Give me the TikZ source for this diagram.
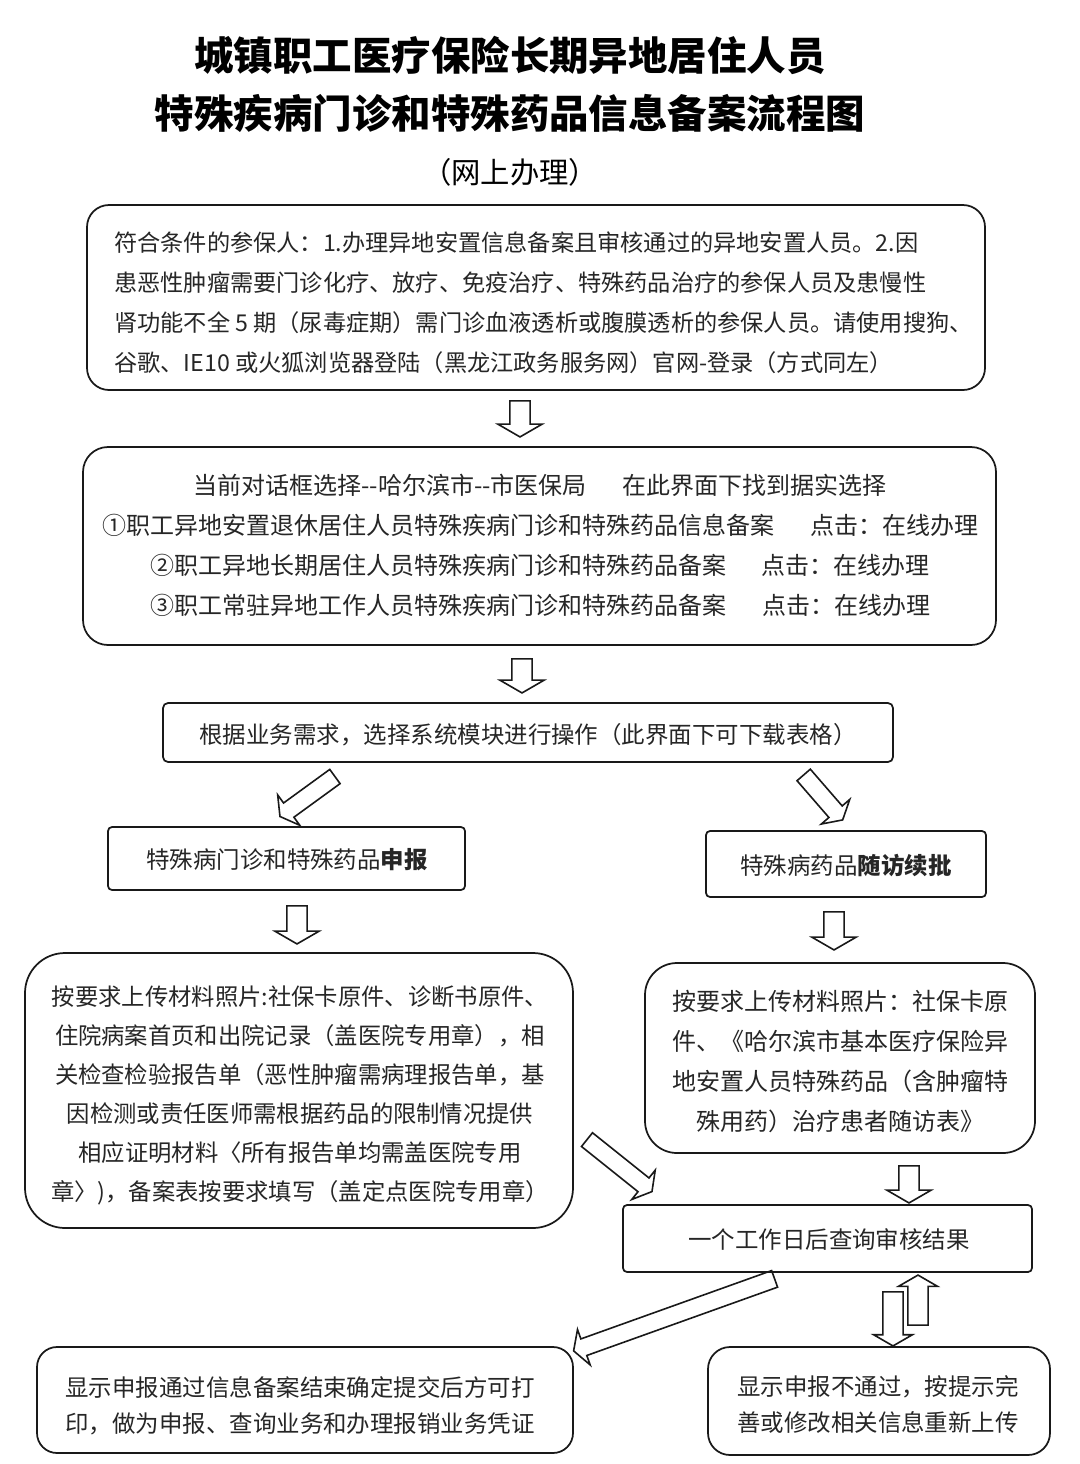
\documentclass[tikz,border=0pt]{standalone}
\usepackage{fontspec}
\setmainfont{Noto Sans CJK SC}
\usetikzlibrary{shapes.arrows,calc}
\tikzset{
  box/.style={draw=black!90, line width=1.3pt, fill=white, inner sep=0pt},
  txt/.style={inner sep=0pt, text=black!85},
  barrowsty/.style={draw=black!90, line width=1.2pt, single arrow, inner xsep=0pt, outer sep=0pt, single arrow tip angle=120, anchor=center}
}
% block arrow: from, to, half shaft width, head extend
\newcommand\barrow[4]{%
  \path let \p1=($(#2)-(#1)$), \n1={atan2(\y1,\x1)}, \n2={veclen(\x1,\y1)} in
    node[barrowsty, minimum height=\n2, inner ysep=#3, single arrow head extend=#4, rotate=\n1] at ($(#1)!0.5!(#2)$) {};}
\begin{document}
\begin{tikzpicture}[x=0.75pt,y=-0.75pt]
\fill[white] (0,0) rectangle (1080,1464);
\useasboundingbox (0,0) rectangle (1080,1464);

% title
\node[txt, align=center, text=black, font=\fontsize{29.6pt}{43.5pt}\selectfont\bfseries] (title) at (510,84) {城镇职工医疗保险长期异地居住人员\\特殊疾病门诊和特殊药品信息备案流程图};
\node[txt, text=black, font=\fontsize{22pt}{26pt}\selectfont] (sub) at (510,172) {（网上办理）};

% boxes
\node[box, minimum width=673.5pt, minimum height=138.75pt, rounded corners=16.5pt] (b1) at (536,297.5) {};
\node[txt, align=left, font=\fontsize{17.4pt}{30pt}\selectfont, anchor=west] (t1) at (114,303) {符合条件的参保人：1.办理异地安置信息备案且审核通过的异地安置人员。2.因\\患恶性肿瘤需要门诊化疗、放疗、免疫治疗、特殊药品治疗的参保人员及患慢性\\肾功能不全 5 期（尿毒症期）需门诊血液透析或腹膜透析的参保人员。请使用搜狗、\\谷歌、IE10 或火狐浏览器登陆（黑龙江政务服务网）官网-登录（方式同左）};

\node[box, minimum width=684.75pt, minimum height=148.5pt, rounded corners=18.75pt] (b2) at (539.5,546) {};
\node[txt, align=center, font=\fontsize{18pt}{30pt}\selectfont] (t2) at (540,545) {当前对话框选择{-}{-}哈尔滨市{-}{-}市医保局\hspace{1.5em}在此界面下找到据实选择\\①职工异地安置退休居住人员特殊疾病门诊和特殊药品信息备案\hspace{1.5em}点击：在线办理\\②职工异地长期居住人员特殊疾病门诊和特殊药品备案\hspace{1.5em}点击：在线办理\\③职工常驻异地工作人员特殊疾病门诊和特殊药品备案\hspace{1.5em}点击：在线办理};

\node[box, minimum width=547.5pt, minimum height=44.25pt, rounded corners=3.75pt] (b3) at (528,732.5) {};
\node[txt, font=\fontsize{17.6pt}{29pt}\selectfont] (t3) at (528,735) {根据业务需求，选择系统模块进行操作（此界面下可下载表格）};

\node[box, minimum width=267.75pt, minimum height=47.25pt, rounded corners=3pt] (b4) at (286.5,858.5) {};
\node[txt, font=\fontsize{17.6pt}{29pt}\selectfont] (t4) at (287,860) {特殊病门诊和特殊药品{\bfseries 申报}};

\node[box, minimum width=210pt, minimum height=49.5pt, rounded corners=3pt] (b5) at (846,864) {};
\node[txt, font=\fontsize{17.6pt}{29pt}\selectfont] (t5) at (846,866) {特殊病药品{\bfseries 随访续批}};

\node[box, minimum width=411pt, minimum height=206.25pt, rounded corners=30pt] (b6) at (299,1090.5) {};
\node[txt, align=center, font=\fontsize{17.5pt}{29.25pt}\selectfont] (t6) at (300,1095.5) {按要求上传材料照片:社保卡原件、诊断书原件、\\住院病案首页和出院记录（盖医院专用章），相\\关检查检验报告单（恶性肿瘤需病理报告单，基\\因检测或责任医师需根据药品的限制情况提供\\相应证明材料〈所有报告单均需盖医院专用\\章〉)，备案表按要求填写（盖定点医院专用章）};

\node[box, minimum width=292.5pt, minimum height=142.5pt, rounded corners=24pt] (b7) at (840,1058) {};
\node[txt, align=center, font=\fontsize{18pt}{30pt}\selectfont] (t7) at (840,1061) {按要求上传材料照片：社保卡原\\件、《哈尔滨市基本医疗保险异\\地安置人员特殊药品（含肿瘤特\\殊用药）治疗患者随访表》};

\node[box, minimum width=306.75pt, minimum height=50.25pt, rounded corners=3pt] (b8) at (827.5,1238.5) {};
\node[txt, font=\fontsize{17.6pt}{29pt}\selectfont] (t8) at (829,1240) {一个工作日后查询审核结果};

\node[box, minimum width=402pt, minimum height=79.5pt, rounded corners=15pt] (b9) at (305,1400) {};
\node[txt, align=center, font=\fontsize{17.6pt}{27pt}\selectfont] (t9) at (300,1406) {显示申报通过信息备案结束确定提交后方可打\\印，做为申报、查询业务和办理报销业务凭证};

\node[box, minimum width=256.5pt, minimum height=81pt, rounded corners=16.5pt] (b10) at (879,1401) {};
\node[txt, align=center, font=\fontsize{17.6pt}{27pt}\selectfont] (t10) at (878,1405) {显示申报不通过，按提示完\\善或修改相关信息重新上传};

% arrow end points
\coordinate (a1s) at (520,398);  \coordinate (a1e) at (520,434);
\coordinate (a2s) at (522,656);  \coordinate (a2e) at (522,690);
\coordinate (a3s) at (337,775);  \coordinate (a3e) at (282,815);
\coordinate (a4s) at (802,773);  \coordinate (a4e) at (841,818);
\coordinate (a5s) at (297,903);  \coordinate (a5e) at (297,941);
\coordinate (a6s) at (834,909);  \coordinate (a6e) at (834,947);
\coordinate (a7s) at (585,1138); \coordinate (a7e) at (650,1190);
\coordinate (a8s) at (909,1163); \coordinate (a8e) at (909,1200);
\coordinate (a9s) at (777,1278); \coordinate (a9e) at (576,1350);
\coordinate (a10s) at (893,1289); \coordinate (a10e) at (893,1343);
\coordinate (a11s) at (918,1328); \coordinate (a11e) at (918,1278);

\barrow{a1s}{a1e}{7pt}{9pt}
\barrow{a2s}{a2e}{7pt}{9pt}
\barrow{a3s}{a3e}{6pt}{7.5pt}
\barrow{a4s}{a4e}{6pt}{7.5pt}
\barrow{a5s}{a5e}{7pt}{9pt}
\barrow{a6s}{a6e}{7pt}{9pt}
\barrow{a7s}{a7e}{6pt}{7.5pt}
\barrow{a8s}{a8e}{7pt}{9pt}
\barrow{a9s}{a9e}{6pt}{7.5pt}
\barrow{a10s}{a10e}{7pt}{7pt}
\barrow{a11s}{a11e}{7pt}{7pt}
\end{tikzpicture}
\end{document}
